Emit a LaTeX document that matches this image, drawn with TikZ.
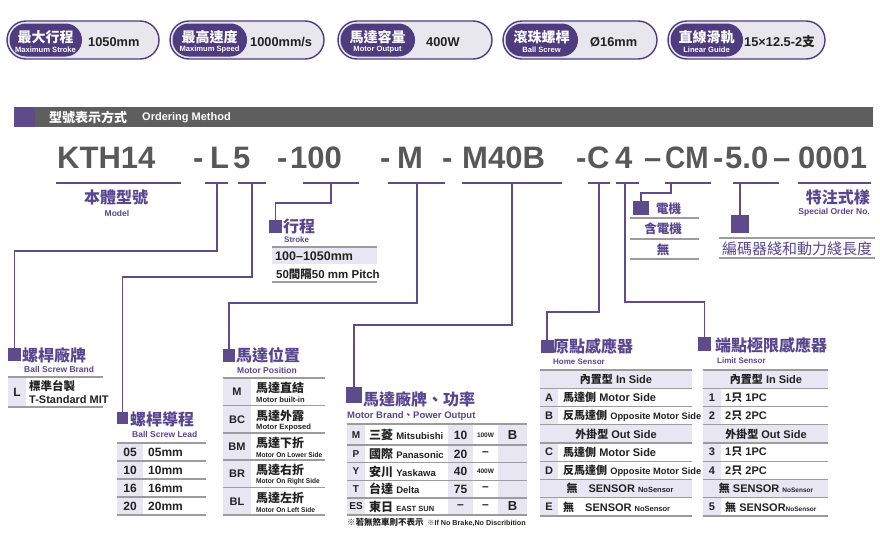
\documentclass[tikz,border=0pt]{standalone}
\usepackage{fontspec}
\setmainfont{Liberation Sans}
\newfontfamily\zhf{Noto Sans CJK TC}
\newcommand\zh[1]{{\zhf #1}}
\newcommand\fs[1]{\fontsize{#1}{#1}\selectfont}
\definecolor{pur}{HTML}{4E3B80}
\definecolor{lpur}{HTML}{5E4B8C}
\definecolor{tpur}{HTML}{5A4690}
\definecolor{barc}{HTML}{5E5E5E}
\definecolor{codeg}{HTML}{585858}
\definecolor{pill}{HTML}{E7E7ED}
\definecolor{lav}{HTML}{E8E6F2}
\definecolor{glc}{HTML}{9C9C9C}
\definecolor{ink}{HTML}{222222}
\begin{document}
\begin{tikzpicture}[x=1pt,y=-1pt,
  txt/.style={inner sep=0pt},
  ttl/.style={inner sep=0pt, anchor=west, text=tpur, font=\fs{16}\zhf\bfseries},
  sub/.style={inner sep=0pt, anchor=west, text=tpur, font=\fs{8}\bfseries},
  sqbox/.style={fill=lpur, inner sep=0pt},
  conn/.style={draw=lpur, line width=1.3pt},
  uline/.style={draw=lpur, line width=1.3pt},
  gl/.style={draw=glc, line width=1.2pt},
  code/.style={inner sep=0pt, anchor=base west, text=codeg, font=\fs{31}\bfseries},
  cell/.style={inner sep=0pt, text=ink, font=\fs{11}\bfseries},
  zcell/.style={inner sep=0pt, text=ink, font=\fs{11}\zhf\bfseries},
]
\useasboundingbox (0,0) rectangle (880,549);
\fill[white] (0,0) rectangle (880,549);

% ---------- top badges ----------
\foreach \i/\xa/\xb/\xc/\xv/\zhtxt/\en/\val in {
  1/7/159/82/88/最大行程/Maximum Stroke/1050mm,
  2/170/324/247/250/最高速度/Maximum Speed/1000mm\slash s,
  3/338/492/415/426/馬達容量/Motor Output/400W,
  4/503/657/578/590/滾珠螺桿/Ball Screw/Ø16mm,
  5/668/825/743/744/直線滑軌/Linear Guide/{15×12.5-2\zh{支}}}{
  \draw[draw=pur, line width=1.4pt, fill=pill, rounded corners=19pt] (\xa,21) rectangle (\xb,59);
  \fill[pur, rounded corners=16.5pt] (\xa+2.5,23.5) rectangle (\xc,56.5);
  \node[txt, text=white, font=\fs{14}\zhf\bfseries] (bz\i) at ({(\xa+\xc)/2+1},37) {\zhtxt};
  \node[txt, text=white, font=\fs{7.6}\bfseries] (be\i) at ({(\xa+\xc)/2+1},50) {\en};
  \node[txt, anchor=west, text=ink, font=\fs{12.8}\bfseries] (bv\i) at (\xv,42) {\val};
}

% ---------- header bar ----------
\fill[barc] (14,107) rectangle (873,127);
\fill[lpur] (14,107) rectangle (35,127);
\node[txt, anchor=west, text=white, font=\fs{13}\zhf\bfseries] (hz) at (49,117) {型號表示方式};
\node[txt, anchor=west, text=white, font=\fs{11}\bfseries] (he) at (142,118) {Ordering Method};

% ---------- code line ----------
\node[code] (c1) at (57,168) {KTH14};
\node[code] (c2) at (193,168) {-};
\node[code] (c3) at (210,168) {L};
\node[code] (c4) at (233,168) {5};
\node[code] (c5) at (277,168) {-};
\node[code] (c6) at (290,168) {100};
\node[code] (c7) at (380,168) {-};
\node[code] (c8) at (397,168) {M};
\node[code] (c9) at (442,168) {-};
\node[code] (c10) at (462,168) {M40B};
\node[code] (c11) at (576,168) {-};
\node[code] (c12) at (587,168) {C};
\node[code] (c13) at (615,168) {4};
\node[code] (c14) at (644,168) {–};
\node[code] (c15) at (665,168) {\scalebox{0.9}[1]{CM}};
\node[code] (c16) at (713,168) {-};
\node[code] (c17) at (725,168) {5.0};
\node[code] (c18) at (773,168) {–};
\node[code] (c19) at (798,168) {0001};

% underlines
\draw[uline] (56,183) -- (181,183);
\draw[uline] (205,183) -- (228,183);
\draw[uline] (238,183) -- (266,183);
\draw[uline] (303,183) -- (359,183);
\draw[uline] (388,183) -- (445,183);
\draw[uline] (462,183) -- (562,183);
\draw[uline] (588,183) -- (610,183);
\draw[uline] (616,183) -- (639,183);
\draw[uline] (665,183) -- (711,183);
\draw[uline] (733,183) -- (779,183);
\draw[uline] (798,183) -- (871,183);
\coordinate (uL) at (217,183);
\coordinate (u5) at (252,183);
\coordinate (u100) at (331,183);
\coordinate (uM) at (417,183);
\coordinate (uMB) at (512,183);
\coordinate (uC) at (599,183);
\coordinate (u4) at (625,183);
\coordinate (uCM) at (671,183);
\coordinate (uEN) at (740,183);

% model / special order
\node[txt, text=tpur, font=\fs{16}\zhf\bfseries] (mz) at (116,197) {本體型號};
\node[txt, text=tpur, font=\fs{8.5}\bfseries] (me) at (117,213) {Model};
\node[txt, anchor=east, text=tpur, font=\fs{16}\zhf\bfseries] (spz) at (870,197) {特注式樣};
\node[txt, anchor=east, text=tpur, font=\fs{8.5}\bfseries] (spe) at (870,212) {Special Order No.};

% ---------- squares ----------
\node[sqbox, minimum width=13pt, minimum height=13pt] (sqBSB) at (14.5,354.5) {};
\node[sqbox, minimum width=11pt, minimum height=12pt] (sqBSL) at (122.5,418) {};
\node[sqbox, minimum width=13pt, minimum height=13pt] (sqST) at (275.5,226.5) {};
\node[sqbox, minimum width=12pt, minimum height=13pt] (sqMP) at (229,355.5) {};
\node[sqbox, minimum width=16pt, minimum height=16pt] (sqMB) at (354,395) {};
\node[sqbox, minimum width=13pt, minimum height=13pt] (sqHS) at (547,346.5) {};
\node[sqbox, minimum width=13pt, minimum height=14pt] (sqLS) at (704.5,344) {};
\node[sqbox, minimum width=16pt, minimum height=14pt] (sqEM) at (641,208) {};
\node[sqbox, minimum width=18pt, minimum height=18pt] (sqEN) at (740,224) {};

% ---------- connectors ----------
\draw[conn] (uL) -- ++(0,68) -| (sqBSB.north);
\draw[conn] (u5) -- ++(0,94) -| (sqBSL.north);
\draw[conn] (u100) -- ++(0,20) -| (sqST.north);
\draw[conn] (uM) -- ++(0,120) -| (sqMP.north);
\draw[conn] (uMB) -- ++(0,142) -| (sqMB.north);
\draw[conn] (uC) -- ++(0,129) -| (sqHS.north);
\draw[conn] (u4) -- ++(0,119) -| (sqLS.north);
\draw[conn] (uCM) -- ++(0,10) -| (sqEM.north);
\draw[conn] (uEN) -- (sqEN.north);

% ---------- motor (電機) ----------
\draw[gl] (630,218) -- (699,218);
\draw[gl] (630,239) -- (699,239);
\draw[gl] (630,259) -- (699,259);
\node[txt, anchor=west, text=tpur, font=\fs{12.5}\zhf\bfseries] (em1) at (656,209) {電機};
\node[txt, text=tpur, font=\fs{12.5}\zhf\bfseries] (em2) at (663,229) {含電機};
\node[txt, text=tpur, font=\fs{12.5}\zhf\bfseries] (em3) at (663,249.5) {無};

% ---------- encoder cable length ----------
\draw[gl] (719,238) -- (875,238);
\draw[gl] (719,258) -- (875,258);
\node[txt, text=tpur, font=\fs{15}\zhf] (enc) at (797,248.5) {編碼器綫和動力綫長度};

% ---------- stroke ----------
\node[ttl] (stz) at (283,226) {行程};
\node[sub] (ste) at (284,239.5) {Stroke};
\fill[lav] (272,248) rectangle (377,264);
\draw[gl] (272,247) -- (377,247);
\draw[gl] (272,282) -- (377,282);
\node[cell, anchor=west, font=\fs{12.5}\bfseries] (st1) at (275,256) {100–1050mm};
\node[cell, anchor=west, font=\fs{11.5}\bfseries] (st2) at (276,274) {50\zh{間隔}50 mm Pitch};

% ---------- ball screw brand ----------
\node[ttl] (bsbz) at (22,355) {螺桿廠牌};
\node[sub, font=\fs{8.5}\bfseries] (bsbe) at (24,369.5) {Ball Screw Brand};
\fill[lav] (8,378) rectangle (26,406);
\draw[gl] (8,377) -- (103,377);
\draw[gl] (8,407) -- (103,407);
\node[cell, font=\fs{12}\bfseries] (bsb0) at (17,392) {L};
\node[zcell, anchor=west, font=\fs{11.5}\zhf\bfseries] (bsb1) at (29,386) {標準台製};
\node[cell, anchor=west] (bsb2) at (29,399.5) {T-Standard MIT};

% ---------- ball screw lead ----------
\node[ttl] (bslz) at (130,419) {螺桿導程};
\node[sub, font=\fs{8.5}\bfseries] (bsle) at (132,434) {Ball Screw Lead};
\fill[lav] (117,444) rectangle (143,514);
\foreach \yy in {443,461,479,497,515} \draw[gl] (117,\yy) -- (206,\yy);
\foreach \k/\yy in {05/452,10/470,16/488,20/506}{
  \node[cell, font=\fs{12}\bfseries] (bl\k) at (130,\yy) {\k};
  \node[cell, anchor=west, font=\fs{12}\bfseries] (blv\k) at (148,\yy) {\k mm};
}

% ---------- motor position ----------
\node[ttl] (mpz) at (236,355) {馬達位置};
\node[sub, font=\fs{8.5}\bfseries] (mpe) at (237,370) {Motor Position};
\fill[lav] (223,379) rectangle (251,514);
\foreach \yy in {378,405.5,433,460,487.5,515} \draw[gl] (223,\yy) -- (325,\yy);
\foreach \k/\t/\z/\e in {M/378/馬達直結/{\fs{7.6}Motor built-in}, BC/405.5/馬達外露/{\fs{7.6}Motor Exposed}, BM/433/馬達下折/{\fs{7}\scalebox{0.94}[1]{Motor On Lower Side}}, BR/460/馬達右折/{\fs{7}\scalebox{0.94}[1]{Motor On Right Side}}, BL/487.5/馬達左折/{\fs{7}\scalebox{0.94}[1]{Motor On Left Side}}}{
  \node[cell] (mp\k) at (237,\t+14) {\k};
  \node[zcell, anchor=west, font=\fs{12}\zhf\bfseries] (mpz\k) at (256,\t+10) {\z};
  \node[cell, anchor=west] (mpe\k) at (256,\t+22) {\e};
}

% ---------- motor brand / power ----------
\node[ttl] (mbz) at (363,399) {馬達廠牌、功率};
\node[sub, font=\fs{9.5}\bfseries] (mbe) at (347,416) {Motor Brand\zh{、}Power Output};
\fill[lav] (347,425) rectangle (365,514);
\fill[lav] (448,425) rectangle (473,514);
\fill[lav] (498,425) rectangle (527,514);
\foreach \yy in {424,445,462.5,480.5,498,515} \draw[gl] (347,\yy) -- (527,\yy);
\foreach \k/\yy/\z/\e/\n/\p/\b in {
  M/435/三菱/Mitsubishi/10/{\fs{6.5}100W}/B,
  P/454/國際/Panasonic/20/{\fs{12}–}/,
  Y/471.5/安川/Yaskawa/40/{\fs{6.5}400W}/,
  T/489/台達/Delta/75/{\fs{12}–}/,
  ES/506.5/東日/{\fs{7.5}EAST SUN}/–/{\fs{12}–}/B}{
  \node[cell, font=\fs{10}\bfseries] (mb\k) at (356,\yy) {\k};
  \node[cell, anchor=west] (mbn\k) at (369,\yy) {\zh{\fs{12}\z} {\fs{9.5}\e}};
  \node[cell, font=\fs{12}\bfseries] (mbw\k) at (460.5,\yy) {\n};
  \node[cell] (mbp\k) at (485.5,\yy) {\p};
  \node[cell, font=\fs{13}\bfseries] (mbb\k) at (512.5,\yy) {\b};
}
\node[cell, anchor=west, font=\fs{7.2}\bfseries] (note) at (347,522) {\zh{\fs{8.5}※若無煞車則不表示}\enspace \zh{※}If No Brake,No Discribition};

% ---------- home sensor ----------
\node[ttl] (hsz) at (553,346) {原點感應器};
\node[sub] (hse) at (553,362) {Home Sensor};
\foreach \r in {0,3,6} \fill[lav] (540,{370+18.25*\r}) rectangle (692,{370+18.25*(\r+1)});
\foreach \r in {1,2,4,5,7} \fill[lav] (540,{370+18.25*\r}) rectangle (558,{370+18.25*(\r+1)});
\foreach \r in {0,...,8} \draw[gl] (540,{370+18.25*\r}) -- (692,{370+18.25*\r});
\node[cell] (hs0) at (616,{370+18.25*0.5}) {\zh{內置型} In Side};
\node[cell] (hs3) at (616,{370+18.25*3.5}) {\zh{外掛型} Out Side};
\node[cell] (hs6) at (620,{370+18.25*6.5}) {\zh{無}\quad SENSOR {\fs{7.5}NoSensor}};
\foreach \r/\k/\t in {1/A/{\zh{馬達側} Motor Side}, 2/B/{\zh{反馬達側} {\fs{9.3}Opposite Motor Side}}, 4/C/{\zh{馬達側} Motor Side}, 5/D/{\zh{反馬達側} {\fs{9.3}Opposite Motor Side}}, 7/E/{\zh{無}\quad SENSOR {\fs{7.5}NoSensor}}}{
  \node[cell] (hsc\r) at (549,{370+18.25*(\r+0.5)}) {\k};
  \node[cell, anchor=west] (hst\r) at (563,{370+18.25*(\r+0.5)}) {\t};
}

% ---------- limit sensor ----------
\node[ttl] (lsz) at (715,345) {端點極限感應器};
\node[sub] (lse) at (717,361) {Limit Sensor};
\foreach \r in {0,3,6} \fill[lav] (703,{370+18.25*\r}) rectangle (828,{370+18.25*(\r+1)});
\foreach \r in {1,2,4,5,7} \fill[lav] (703,{370+18.25*\r}) rectangle (721,{370+18.25*(\r+1)});
\foreach \r in {0,...,8} \draw[gl] (703,{370+18.25*\r}) -- (828,{370+18.25*\r});
\node[cell] (ls0) at (766,{370+18.25*0.5}) {\zh{內置型} In Side};
\node[cell] (ls3) at (766,{370+18.25*3.5}) {\zh{外掛型} Out Side};
\node[cell] (ls6) at (766,{370+18.25*6.5}) {\zh{無} SENSOR {\fs{6.5}NoSensor}};
\foreach \r/\k/\t in {1/1/{1\zh{只} 1PC}, 2/2/{2\zh{只} 2PC}, 4/3/{1\zh{只} 1PC}, 5/4/{2\zh{只} 2PC}, 7/5/{\zh{無} SENSOR{\fs{6.5}NoSensor}}}{
  \node[cell] (lsc\r) at (712,{370+18.25*(\r+0.5)}) {\k};
  \node[cell, anchor=west] (lst\r) at (725,{370+18.25*(\r+0.5)}) {\t};
}
\end{tikzpicture}
\end{document}
